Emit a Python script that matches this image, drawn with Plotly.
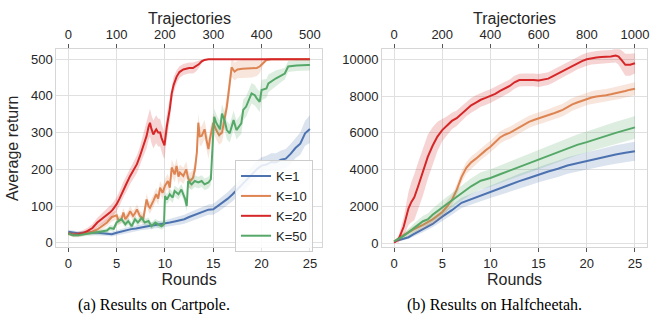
import plotly.graph_objects as go

# ---------------- Cartpole (left) ----------------
cp_k1_x = [0, 0.5, 1, 1.5, 2, 2.5, 3, 3.5, 4, 4.5, 5, 5.5, 6, 6.5, 7, 7.5, 8, 8.5, 9, 9.5,
           10, 10.5, 11, 11.5, 12, 12.5, 13, 13.5, 14, 14.5, 15, 15.5, 16, 16.5, 17, 17.5,
           18, 18.5, 19, 19.5, 20, 20.5, 21, 21.5, 22, 22.5, 23, 23.5, 24, 24.5, 25]
cp_k1_y = [30, 27, 26, 27, 28, 28, 27, 25, 24, 23, 27, 31, 35, 37, 39, 42, 44, 46, 48, 50,
           51, 55, 58, 60, 64, 70, 75, 80, 85, 90, 91, 100, 110, 120, 132, 146,
           160, 172, 188, 200, 210, 213, 220, 219, 226, 229, 242, 258, 270, 298, 310]
cp_k1_sd = [5, 5, 5, 5, 5, 6, 6, 6, 6, 6, 7, 7, 8, 8, 8, 8, 9, 9, 9, 10,
            10, 10, 11, 11, 12, 12, 13, 13, 14, 14, 15, 16, 17, 18, 19, 20,
            21, 22, 22, 23, 23, 24, 24, 25, 25, 26, 27, 28, 30, 34, 38]

cp_k10_x = [0, 0.5, 1, 1.5, 2, 2.5, 3, 3.5, 4, 4.5, 5, 5.2, 5.5, 5.7, 5.9, 6.2, 6.4, 6.7, 6.9,
            7.1, 7.4, 7.75, 7.9, 8.1, 8.3, 8.45, 8.8, 9.1, 9.3, 9.5, 9.75, 10, 10.3, 10.5,
            10.7, 11.0, 11.2, 11.4, 11.55, 11.9, 12.2, 12.4, 12.6, 12.9, 13.1, 13.3, 13.45,
            13.6, 13.8, 14.1, 14.3, 14.5, 14.65, 14.8, 15, 15.3, 15.6, 15.9, 16.2, 16.4,
            16.7, 16.9, 17.2, 17.5, 18, 18.5, 19, 19.5, 19.8, 20.2, 20.5, 21, 22, 23, 24, 25]
cp_k10_y = [25, 22, 22, 24, 27, 30, 36, 45, 55, 70, 75, 60, 64, 82, 64, 75, 86, 73, 80,
            91, 73, 64, 85, 118, 100, 95, 114, 132, 120, 150, 136, 155, 168, 150,
            205, 186, 209, 180, 191, 182, 200, 175, 168, 177, 200, 245, 327,
            290, 291, 309, 280, 255, 282, 300, 327, 307, 293, 300, 340, 370,
            434, 478, 466, 472, 474, 474, 474, 476, 480, 492, 498, 500, 500, 500, 500, 500]
cp_k10_sd = [5, 5, 5, 6, 6, 7, 8, 9, 10, 12, 12, 12, 12, 13, 13, 13, 14, 14, 14,
             14, 14, 15, 15, 16, 16, 16, 17, 18, 18, 18, 18, 19, 20, 20,
             22, 22, 22, 22, 22, 22, 22, 22, 22, 22, 22, 24, 26,
             26, 26, 26, 26, 26, 26, 26, 26, 26, 26, 26, 28, 30,
             30, 26, 24, 24, 24, 24, 24, 22, 18, 8, 3, 0, 0, 0, 0, 0]

cp_k20_x = [0, 0.5, 1, 1.5, 2, 2.5, 3, 3.5, 4, 4.3, 4.6, 5, 5.3, 5.7, 6, 6.4, 6.8, 7.1, 7.4,
            7.75, 8.1, 8.3, 8.45, 8.6, 8.8, 9.0, 9.1, 9.3, 9.5, 9.65, 9.8, 9.95, 10.2, 10.5,
            10.7, 10.9, 11.2, 11.5, 11.9, 12.5, 12.9, 13.2, 13.5, 13.8, 14.1, 14.5, 15, 17,
            19, 21, 23, 25]
cp_k20_y = [25, 22, 23, 26, 32, 40, 55, 65, 75, 82, 90, 105, 120, 145, 160, 182, 200, 214, 235,
            264, 291, 315, 327, 310, 295, 305, 309, 300, 300, 285, 273, 265, 318, 364,
            407, 430, 452, 465, 472, 476, 476, 480, 486, 494, 498, 500, 500, 500,
            500, 500, 500, 500]
cp_k20_sd = [5, 6, 7, 8, 9, 11, 13, 15, 16, 17, 18, 19, 20, 21, 22, 22, 23, 24, 26,
             30, 34, 36, 38, 38, 38, 38, 38, 38, 38, 38, 38, 36, 34, 30,
             26, 22, 18, 16, 15, 15, 15, 14, 10, 6, 3, 0, 0, 0,
             0, 0, 0, 0]

cp_k50_x = [0, 0.5, 1, 1.5, 2, 2.5, 3, 3.5, 4, 4.3, 4.7, 5, 5.5, 5.9, 6.2, 6.55, 6.9, 7.2, 7.6,
            7.9, 8.3, 8.6, 9.0, 9.3, 9.65, 9.9, 10, 10.2, 10.5, 10.8, 11.0, 11.4, 11.7, 12.1,
            12.25, 12.4, 12.75, 13.1, 13.45, 13.8, 14.1, 14.5, 14.75, 15, 15.1, 15.3, 15.5,
            15.7, 15.9, 16.2, 16.4, 16.7, 17.1, 17.4, 17.9, 18.1, 18.4, 18.96, 19.3, 19.5,
            19.8, 20, 20.5, 20.7, 21.5, 22, 22.4, 22.75, 23.6, 24.8, 25]
cp_k50_y = [25, 20, 20, 22, 24, 27, 28, 30, 33, 40, 38, 55, 64, 50, 59, 45, 64, 55, 68,
            55, 59, 45, 55, 50, 45, 50, 127, 118, 132, 123, 141, 132, 145, 118,
            100, 168, 159, 168, 164, 168, 159, 164, 173, 300, 343, 327, 316,
            309, 352, 330, 307, 298, 334, 307, 325, 362, 371, 407, 402, 393,
            384, 416, 420, 434, 448, 455, 461, 480, 483, 484, 484]
cp_k50_sd = [5, 5, 5, 5, 6, 6, 6, 7, 7, 8, 8, 9, 9, 9, 10, 10, 10, 10, 10,
             10, 10, 10, 10, 10, 10, 10, 14, 14, 15, 15, 15, 15, 15, 15,
             15, 16, 16, 16, 16, 16, 16, 16, 16, 22, 24, 24, 24,
             25, 25, 25, 25, 25, 26, 26, 28, 28, 28, 28, 28, 28,
             28, 28, 26, 24, 22, 18, 16, 15, 15, 15, 15]

# ---------------- Halfcheetah (right) ----------------
hc_k1_x = [0, 1, 1.5, 2, 3, 4, 5, 6, 7, 7.5, 8, 9, 10, 11, 12, 13, 14, 15, 16, 17, 18, 19,
           20, 21, 22, 23, 24, 25]
hc_k1_y = [100, 250, 330, 480, 750, 1050, 1450, 1800, 2200, 2300, 2400, 2600, 2800, 3000,
           3200, 3380, 3550, 3740, 3900, 4050, 4230, 4350, 4480, 4600, 4720, 4830, 4920, 5000]
hc_k1_sd = [30, 80, 100, 120, 150, 180, 220, 250, 280, 290, 300, 320, 340, 360,
            380, 400, 410, 420, 430, 440, 450, 460, 470, 480, 490, 500, 510, 520]

hc_k10_x = [0, 1, 2, 3, 4, 5, 5.5, 6, 6.5, 7, 7.5, 8, 8.5, 9, 9.5, 10, 10.5, 11, 11.5, 12,
            12.5, 13, 13.5, 14, 14.5, 15, 15.5, 16, 16.5, 17, 17.5, 18, 18.5, 19, 19.5, 20,
            20.5, 21, 21.5, 22, 22.5, 23, 23.5, 24, 24.5, 25]
hc_k10_y = [100, 450, 750, 1000, 1300, 1700, 2000, 2350, 2900, 3600, 4100, 4400, 4600, 4850,
            5050, 5250, 5500, 5750, 5900, 6000, 6150, 6300, 6450, 6600, 6700, 6780, 6850,
            6950, 7050, 7150, 7250, 7400, 7550, 7650, 7750, 7850, 7920, 7980, 8000, 8050,
            8100, 8150, 8200, 8280, 8350, 8400]
hc_k10_sd = [30, 120, 180, 220, 250, 270, 280, 290, 300, 310, 320, 320, 320, 320,
             320, 320, 320, 330, 330, 330, 330, 330, 330, 330, 330, 330, 330,
             340, 340, 340, 340, 340, 340, 340, 340, 340, 340, 340, 340, 340,
             340, 350, 350, 350, 350, 350]

hc_k20_x = [0, 0.5, 1, 1.5, 1.8, 2.1, 2.5, 3, 3.5, 4, 4.5, 5, 5.5, 6, 6.5, 7, 7.5, 8, 8.5,
            9, 9.5, 10, 10.5, 11, 11.5, 12, 12.5, 13, 13.5, 14, 14.5, 15, 15.5, 16, 16.5,
            17, 17.5, 18, 18.5, 19, 19.5, 20, 20.5, 21, 21.5, 22, 22.5, 23, 23.3, 23.7, 24,
            24.5, 25]
hc_k20_y = [30, 250, 900, 1900, 2250, 2500, 3100, 3900, 4700, 5300, 5800, 6150, 6400, 6650,
            6800, 7050, 7300, 7500, 7650, 7800, 7900, 8000, 8120, 8280, 8420, 8550, 8750,
            8870, 8880, 8900, 8880, 8850, 8900, 8950, 9080, 9220, 9350, 9520, 9650, 9800,
            9900, 10000, 10060, 10100, 10130, 10120, 10150, 10200, 10150, 9900, 9700, 9700,
            9780]
hc_k20_sd = [30, 200, 500, 900, 1100, 1250, 1300, 1300, 1200, 1000, 800, 600, 500, 450,
             420, 400, 400, 400, 400, 380, 380, 370, 370, 360, 360, 350, 350,
             350, 350, 350, 350, 350, 350, 350, 350, 350, 350, 350, 350, 350,
             350, 350, 350, 350, 350, 350, 350, 380, 450, 550, 600, 600,
             550]

hc_k50_x = [0, 1, 2, 3, 3.5, 4, 5, 6, 7, 8, 9, 10, 11, 12, 13, 14, 15, 16, 17, 18, 19, 20,
            21, 22, 23, 24, 25]
hc_k50_y = [100, 400, 800, 1200, 1300, 1550, 1950, 2350, 2750, 3100, 3400, 3550, 3750, 3950,
            4150, 4380, 4580, 4780, 4950, 5150, 5350, 5500, 5680, 5850, 6000, 6150, 6300]
hc_k50_sd = [30, 150, 250, 300, 320, 340, 380, 400, 420, 440, 460, 470, 480, 490,
             500, 510, 520, 530, 540, 550, 560, 570, 580, 590, 600, 610, 620]

series_names = ["K=1", "K=10", "K=20", "K=50"]
series_colors = ["#4c72b0", "#dd8452", "#d62728", "#55a868"]
band_colors = ["rgba(76,114,176,0.2)", "rgba(221,132,82,0.2)",
               "rgba(214,39,40,0.2)", "rgba(85,168,104,0.2)"]

left_series = [(cp_k1_x, cp_k1_y, cp_k1_sd), (cp_k10_x, cp_k10_y, cp_k10_sd),
               (cp_k20_x, cp_k20_y, cp_k20_sd), (cp_k50_x, cp_k50_y, cp_k50_sd)]
right_series = [(hc_k1_x, hc_k1_y, hc_k1_sd), (hc_k10_x, hc_k10_y, hc_k10_sd),
                (hc_k20_x, hc_k20_y, hc_k20_sd), (hc_k50_x, hc_k50_y, hc_k50_sd)]

round_ticks = [0, 5, 10, 15, 20, 25]
traj_ticks_left = [0, 100, 200, 300, 400, 500]
traj_ticks_right = [0, 200, 400, 600, 800, 1000]
ret_ticks_left = [0, 100, 200, 300, 400, 500]
ret_ticks_right = [0, 2000, 4000, 6000, 8000, 10000]

fig = go.Figure()


def add_series(data, xa, ya, show_legend):
    for i, (xs, ys, sd) in enumerate(data):
        upper = [y + s for y, s in zip(ys, sd)]
        lower = [y - s for y, s in zip(ys, sd)]
        fig.add_trace(go.Scatter(
            x=list(xs) + list(xs)[::-1], y=upper + lower[::-1],
            fill="toself", fillcolor=band_colors[i], line=dict(width=0),
            mode="lines", hoverinfo="skip", showlegend=False, xaxis=xa, yaxis=ya))
        fig.add_trace(go.Scatter(
            x=xs, y=ys, mode="lines", name=series_names[i],
            line=dict(color=series_colors[i], width=2),
            showlegend=show_legend, xaxis=xa, yaxis=ya))


add_series(left_series, "x", "y", True)
add_series(right_series, "x2", "y2", False)

# invisible anchors so the top (trajectory) axes are drawn
fig.add_trace(go.Scatter(x=traj_ticks_left, y=[None] * len(traj_ticks_left), mode="lines",
                         xaxis="x3", yaxis="y", showlegend=False, hoverinfo="skip"))
fig.add_trace(go.Scatter(x=traj_ticks_right, y=[None] * len(traj_ticks_right), mode="lines",
                         xaxis="x4", yaxis="y2", showlegend=False, hoverinfo="skip"))

FONT = "Liberation Sans, Arial, sans-serif"
TXT = "#262626"
GRID = "#e0e0e0"
FRAME = "#d6d6d6"

xl = [0.0865, 0.4954]
xr = [0.5877, 0.9954]
yd = [0.2414, 0.8488]

bottom_common = dict(range=[-1.25, 26.25], tickvals=round_ticks, showgrid=True,
                     gridcolor=GRID, gridwidth=1, zeroline=False, showline=True,
                     mirror=True, linecolor=FRAME, linewidth=1, ticks="outside",
                     ticklen=4, tickcolor="#555555", tickwidth=1, automargin=False,
                     tickfont=dict(family=FONT, size=13, color=TXT),
                     title=dict(text="Rounds", font=dict(family=FONT, size=16, color=TXT),
                                standoff=0))
top_common = dict(side="top", showgrid=False, zeroline=False, showline=False,
                  ticks="outside", ticklen=4, tickcolor="#555555", tickwidth=1,
                  automargin=False,
                  tickfont=dict(family=FONT, size=13, color=TXT))
y_common = dict(showgrid=True, gridcolor=GRID, gridwidth=1, zeroline=False, showline=True,
                mirror=True, linecolor=FRAME, linewidth=1, ticks="", automargin=False,
                tickformat="d",
                tickfont=dict(family=FONT, size=13, color=TXT))

title_font = dict(family=FONT, size=16, color=TXT)
cap_font = dict(family="Liberation Serif, Times New Roman, serif", size=16, color="black")

fig.update_layout(
    width=650, height=326,
    margin=dict(l=0, r=0, t=0, b=0, autoexpand=False),
    paper_bgcolor="white", plot_bgcolor="white",
    font=dict(family=FONT, color=TXT),
    xaxis=dict(domain=xl, anchor="y", **bottom_common),
    xaxis2=dict(domain=xr, anchor="y2", **bottom_common),
    xaxis3=dict(overlaying="x", anchor="y", range=[-25, 525], tickvals=traj_ticks_left,
                **top_common),
    xaxis4=dict(overlaying="x2", anchor="y2", range=[-50, 1050], tickvals=traj_ticks_right,
                **top_common),
    yaxis=dict(domain=yd, anchor="x", range=[-12.5, 527], tickvals=ret_ticks_left,
               title=dict(text="Average return", font=title_font, standoff=8),
               **y_common),
    yaxis2=dict(domain=yd, anchor="x2", range=[-217, 10543], tickvals=ret_ticks_right,
                **y_common),
    legend=dict(x=0.3615, y=0.509, xanchor="left", yanchor="top",
                bgcolor="rgba(255,255,255,0.85)", bordercolor="#cccccc", borderwidth=1,
                font=dict(family=FONT, size=13, color=TXT), tracegroupgap=0),
    showlegend=True,
    annotations=[
        dict(text="Trajectories", x=sum(xl) / 2, y=(326 - 18) / 326, xref="paper",
             yref="paper", xanchor="center", yanchor="middle", showarrow=False,
             font=title_font),
        dict(text="Trajectories", x=sum(xr) / 2, y=(326 - 18) / 326, xref="paper",
             yref="paper", xanchor="center", yanchor="middle", showarrow=False,
             font=title_font),
        dict(text="(a) Results on Cartpole.", x=154 / 650, y=(326 - 305) / 326,
             xref="paper", yref="paper", xanchor="center", yanchor="middle",
             showarrow=False, font=cap_font),
        dict(text="(b) Results on Halfcheetah.", x=494 / 650, y=(326 - 305) / 326,
             xref="paper", yref="paper", xanchor="center", yanchor="middle",
             showarrow=False, font=cap_font),
    ],
)

fig.write_html("out.html", config={"displayModeBar": False},
               post_script="document.body.style.margin='0px';")
